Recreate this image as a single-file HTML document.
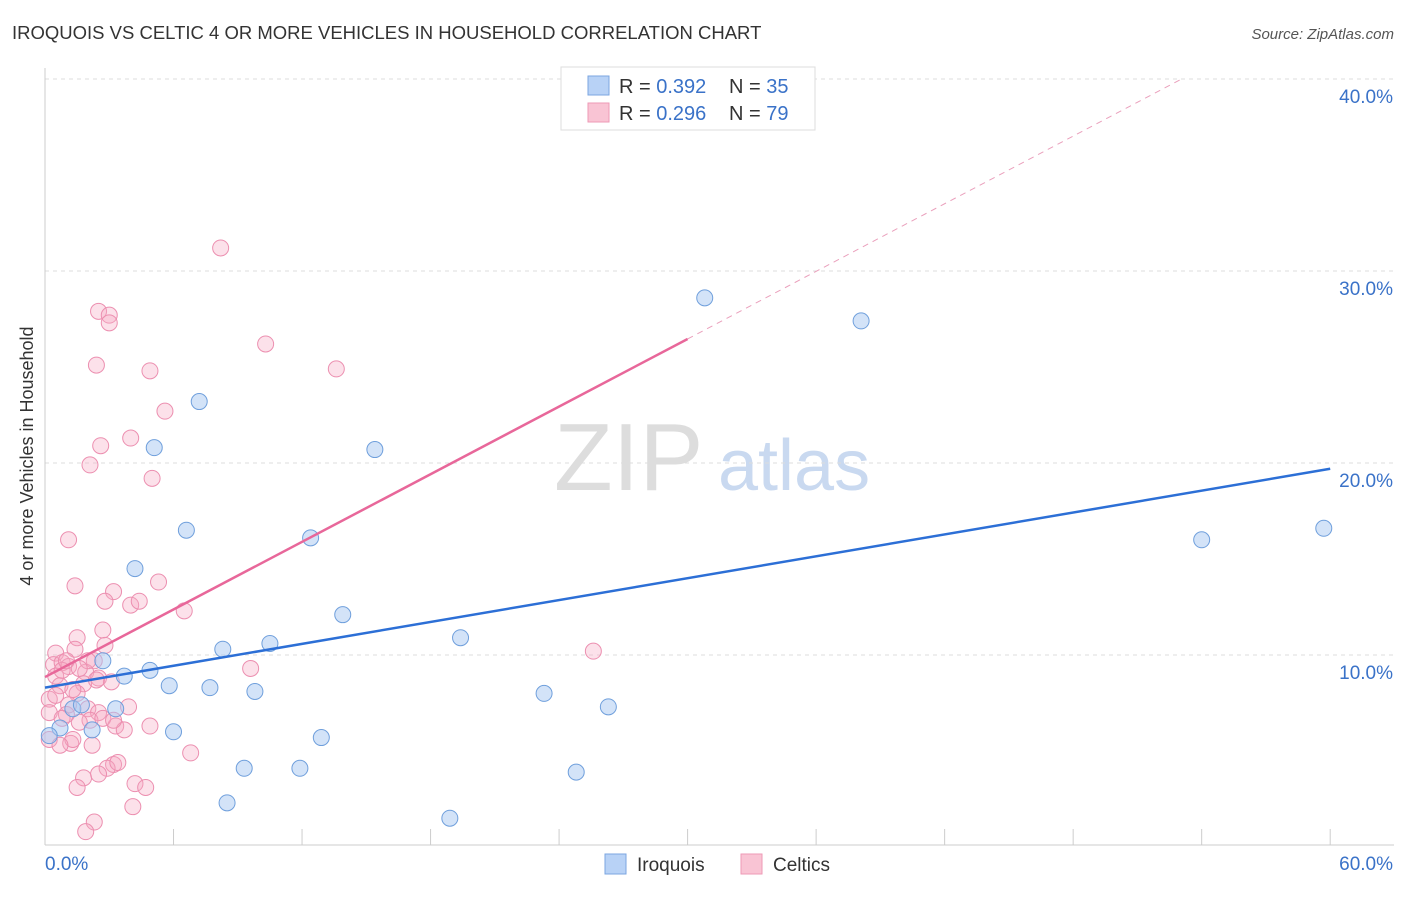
<!DOCTYPE html>
<html><head><meta charset="utf-8"><style>
body{margin:0;background:#fff;font-family:"Liberation Sans",sans-serif;}
svg text{font-family:"Liberation Sans",sans-serif;}
</style></head><body>
<svg id="c" width="1406" height="892" xmlns="http://www.w3.org/2000/svg">
<text x="12" y="39" font-size="18.5" fill="#333">IROQUOIS VS CELTIC 4 OR MORE VEHICLES IN HOUSEHOLD CORRELATION CHART</text>
<text x="1394" y="39" font-size="15" fill="#555" font-style="italic" text-anchor="end">Source: ZipAtlas.com</text>
<text x="33" y="456" font-size="18" fill="#333" text-anchor="middle" transform="rotate(-90 33 456)">4 or more Vehicles in Household</text>
<text x="554" y="490" font-size="96" fill="#ddd" font-family="Liberation Serif">ZIP</text>
<text x="718" y="490" font-size="72" fill="#c9d9f0">atlas</text>
<g id="grid"></g><g id="pts"></g><g id="lines"></g>
<g>
<rect x="561" y="67" width="254" height="63" fill="#fff" stroke="#ddd"/>
<rect x="588" y="76" width="21" height="19" fill="#b8d2f6" stroke="#7ba6e0"/>
<rect x="588" y="103" width="21" height="19" fill="#f9c4d4" stroke="#ee9ab6"/>
<text x="619" y="93" font-size="20" fill="#333">R = <tspan fill="#3a72c8">0.392</tspan></text>
<text x="729" y="93" font-size="20" fill="#333">N = <tspan fill="#3a72c8">35</tspan></text>
<text x="619" y="120" font-size="20" fill="#333">R = <tspan fill="#3a72c8">0.296</tspan></text>
<text x="729" y="120" font-size="20" fill="#333">N = <tspan fill="#3a72c8">79</tspan></text>
</g>
<g>
<rect x="605" y="854" width="21" height="20" fill="#b8d2f6" stroke="#7ba6e0"/>
<text x="637" y="871" font-size="19" fill="#333">Iroquois</text>
<rect x="741" y="854" width="21" height="20" fill="#f9c4d4" stroke="#ee9ab6"/>
<text x="773" y="871" font-size="19" fill="#333">Celtics</text>
</g>
</svg>
<script>
const yTicks=[10,20,30,40];
const yTickLabels=["10.0%","20.0%","30.0%","40.0%"];
const xTicks=[0,6,12,18,24,30,36,42,48,54,60];
const blueX=[30.8,38.1,7.2,5.1,15.4,6.6,12.4,54.0,59.7,4.2,13.9,19.4,10.5,8.3,2.7,3.7,4.9,5.8,7.7,9.8,23.3,26.3,3.3,1.3,1.7,0.7,2.2,6.0,12.9,9.3,11.9,24.8,8.5,18.9,0.2];
const blueY=[28.6,27.4,23.2,20.8,20.7,16.5,16.1,16.0,16.6,14.5,12.1,10.9,10.6,10.3,9.7,8.9,9.2,8.4,8.3,8.1,8.0,7.3,7.2,7.2,7.4,6.2,6.1,6.0,5.7,4.1,4.1,3.9,2.3,1.5,5.8];
const pinkX=[8.2,2.5,3.0,3.0,10.3,2.4,4.9,13.6,5.6,2.6,4.0,2.1,5.0,1.1,1.4,5.3,3.2,2.8,4.0,4.4,6.5,2.7,1.5,2.8,1.4,0.5,25.6,9.6,0.4,0.8,1.1,2.3,1.9,2.5,0.5,0.7,3.1,1.8,1.5,0.2,1.1,0.2,2.0,2.5,3.9,2.1,3.3,3.7,4.9,1.0,1.6,0.8,2.2,1.2,1.3,6.8,3.2,2.9,3.4,1.8,2.5,4.2,1.5,4.7,4.1,2.3,1.9,0.2,0.5,0.8,1.0,2.0,1.3,2.7,1.6,0.7,3.2,2.4];
const pinkY=[31.2,27.9,27.7,27.3,26.2,25.1,24.8,24.9,22.7,20.9,21.3,19.9,19.2,16.0,13.6,13.8,13.3,12.8,12.6,12.8,12.3,11.3,10.9,10.5,10.3,10.1,10.2,9.3,9.5,9.6,9.4,9.7,9.1,8.8,8.9,8.4,8.6,8.5,8.0,7.7,7.4,7.0,7.2,7.0,7.3,6.6,6.3,6.1,6.3,6.9,6.5,6.7,5.3,5.4,5.6,4.9,4.3,4.1,4.4,3.6,3.8,3.3,3.1,3.1,2.1,1.3,0.8,5.6,7.9,9.2,9.7,9.7,8.2,6.7,9.3,5.3,6.6,8.7];
const blueLine=[8.3,19.7];
const pinkLine=[8.85,0.587];
const X=v=>45+v*21.42, Y=v=>847-v*19.2;
const NS="http://www.w3.org/2000/svg";
function mk(p,t,a){const e=document.createElementNS(NS,t);for(const k in a)e.setAttribute(k,a[k]);p.appendChild(e);return e;}
const g=document.getElementById('grid');
yTicks.forEach((t,i)=>{
 const l=mk(g,'line',{x1:45,x2:1394,y1:Y(t),y2:Y(t),stroke:'#ddd','stroke-dasharray':'4,4'});
 
 
 const tx=mk(g,'text',{x:1393,y:Y(t)+24,'font-size':19,fill:'#3a72c8','text-anchor':'end'});
 tx.textContent=yTickLabels[i];
 
 
});
const ax=mk(g,'line',{x1:45,x2:1394,y1:845,y2:845,stroke:'#ccc'});


const ay=mk(g,'line',{x1:45,x2:45,y1:68,y2:845,stroke:'#ccc'});


xTicks.forEach(t=>{
 const l=mk(g,'line',{x1:X(t),x2:X(t),y1:829,y2:845,stroke:'#ccc'});
 
 
});
const x0=mk(g,'text',{x:45,y:870,'font-size':19,fill:'#3a72c8'});x0.textContent='0.0%';


const x1=mk(g,'text',{x:1393,y:870,'font-size':19,fill:'#3a72c8','text-anchor':'end'});x1.textContent='60.0%';


const P=document.getElementById('pts');
pinkX.forEach((x,i)=>{
 const c=mk(P,'circle',{cx:X(x),cy:Y(pinkY[i]),r:8,fill:'rgba(246,170,196,0.35)',stroke:'#ec8fb0','stroke-width':1});
 
 
});
blueX.forEach((x,i)=>{
 const c=mk(P,'circle',{cx:X(x),cy:Y(blueY[i]),r:8,fill:'rgba(168,199,242,0.5)',stroke:'#6f9fdc','stroke-width':1});
 
 
});
const L=document.getElementById('lines');
const bl=mk(L,'line',{x1:X(0),y1:Y(blueLine[0]),x2:X(60),y2:Y(blueLine[1]),stroke:'#2c6fd6','stroke-width':2.5});


const pv=x=>pinkLine[0]+pinkLine[1]*x;
const pl=mk(L,'line',{x1:X(0),y1:Y(pv(0)),x2:X(30),y2:Y(pv(30)),stroke:'#e8679a','stroke-width':2.5});


const xe=(40-pinkLine[0])/pinkLine[1];
const pd=mk(L,'line',{x1:X(30),y1:Y(pv(30)),x2:X(xe),y2:Y(pv(xe)),stroke:'#eaa0bc','stroke-width':1,'stroke-dasharray':'6,5'});


</script>
</body></html>
